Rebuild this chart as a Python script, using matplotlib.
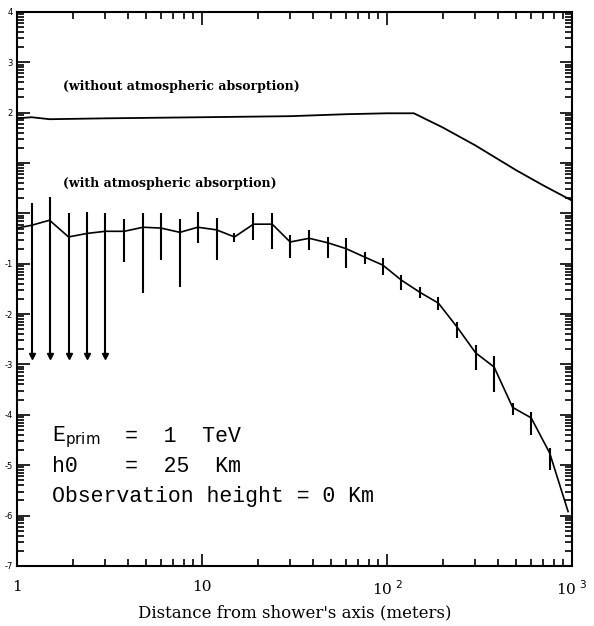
import matplotlib.pyplot as plt
from matplotlib.ticker import LogLocator, NullFormatter
import numpy as np

# values
dist_free = [1.0, 1.2, 1.5, 3.0, 10, 30, 60, 100, 140, 200, 300, 500, 700, 1000]
flux_free = [77, 81, 74, 77, 81, 85, 93, 97, 97, 51, 22.5, 7.2, 3.6, 1.8]

dist_abs = [1.0, 1.2, 1.5, 1.9, 2.4, 3.0, 3.8, 4.8, 6.0, 7.6, 9.5,
            12, 15, 19, 24, 30, 38, 48, 60, 76, 95,
            120, 151, 190, 240, 302, 380, 479, 603, 759, 955]
flux_abs = [0.51, 0.58, 0.73, 0.34, 0.40, 0.44, 0.44, 0.53, 0.51, 0.42, 0.53,
            0.47, 0.34, 0.61, 0.61, 0.27, 0.32, 0.26, 0.20, 0.135, 0.094,
            0.047, 0.027, 0.0165, 0.0055, 0.0017, 8.9e-4, 1.4e-4, 8.7e-5, 1.75e-5, 1.2e-6]
flux_hi = [0.51, 1.6, 2.1, 1.0, 1.06, 1.0, 0.77, 1.0, 1.0, 0.77, 1.06,
           0.80, 0.40, 1.0, 1.0, 0.37, 0.47, 0.34, 0.32, 0.17, 0.13,
           0.059, 0.034, 0.022, 0.0069, 0.0024, 0.0015, 1.7e-4, 1.14e-4, 2.2e-5, 1.2e-6]
flux_lo = [0.51, 0.0015, 0.0015, 0.0015, 0.0015, 0.0015, 0.108, 0.026, 0.118, 0.034, 0.256,
           0.118, 0.27, 0.29, 0.20, 0.13, 0.19, 0.13, 0.082, 0.10, 0.059,
           0.030, 0.021, 0.012, 0.0033, 7.7e-4, 2.8e-4, 9.9e-5, 4.0e-5, 8.0e-6, 1.2e-6]
arrow_idx = [1, 2, 3, 4, 5]  # bars whose lower end is only a limit

x_ticks = [1, 10, 100, 1000]
x_ticklabels = ["1", "10", "10$^{\\ 2}$", "10$^{\\ 3}$"]
# the scan only keeps the exponents of the y labels (left edge is cut)
y_exponents = [-7, -6, -5, -4, -3, -2, -1, 0, 1, 2, 3, 4]
y_shown = [-7, -6, -5, -4, -3, -2, -1, 2, 3, 4]

fig = plt.figure(figsize=(5.94, 6.26), dpi=100)
ax = fig.add_axes([0.0286, 0.096, 0.934, 0.885])

ax.plot(dist_free, flux_free, color="black", lw=1.3)

d = np.array(dist_abs)
f = np.array(flux_abs)
yerr = [f - np.array(flux_lo), np.array(flux_hi) - f]
ax.errorbar(d, f, yerr=yerr, color="black", lw=1.2, elinewidth=1.5, capsize=0)
ax.plot(d[arrow_idx], np.array(flux_lo)[arrow_idx], "v", color="black", ms=4)

ax.set_xscale("log")
ax.set_yscale("log")
ax.set_xlim(1, 1000)
ax.set_ylim(1e-7, 1e4)

ax.set_xticks(x_ticks)
ax.set_xticklabels(x_ticklabels, fontsize=11, family="DejaVu Serif")
ax.set_yticks([10.0 ** e for e in y_exponents])
ax.set_yticklabels([str(e) if e in y_shown else "" for e in y_exponents], fontsize=6)
ax.yaxis.set_minor_locator(LogLocator(base=10, subs=np.arange(2, 10), numticks=200))
ax.yaxis.set_minor_formatter(NullFormatter())
ax.tick_params(which="both", direction="in", top=True, right=True, width=1.2)
ax.tick_params(which="major", length=9)
ax.tick_params(which="minor", length=5)
ax.tick_params(axis="x", pad=10)
ax.tick_params(axis="y", pad=3)
for s in ax.spines.values():
    s.set_linewidth(1.5)

ax.set_xlabel("Distance from shower's axis (meters)", fontsize=12, family="DejaVu Serif", labelpad=4)

ax.text(0.083, 0.865, "(without atmospheric absorption)", transform=ax.transAxes,
        fontsize=9, family="DejaVu Serif", va="center", fontweight="bold")
ax.text(0.083, 0.691, "(with atmospheric absorption)", transform=ax.transAxes,
        fontsize=9, family="DejaVu Serif", va="center", fontweight="bold")

mono = "Liberation Mono"
ax.text(0.063, 0.233, "E$_{\\rm prim}$", transform=ax.transAxes, fontsize=15.5, family=mono, va="center")
ax.text(0.195, 0.233, "=  1  TeV", transform=ax.transAxes, fontsize=15.5, family=mono, va="center")
ax.text(0.063, 0.179, "h0", transform=ax.transAxes, fontsize=15.5, family=mono, va="center")
ax.text(0.195, 0.179, "=  25  Km", transform=ax.transAxes, fontsize=15.5, family=mono, va="center")
ax.text(0.063, 0.125, "Observation height = 0 Km", transform=ax.transAxes, fontsize=15.5,
        family=mono, va="center")

fig.savefig("out.png", dpi=100)
plt.close(fig)
